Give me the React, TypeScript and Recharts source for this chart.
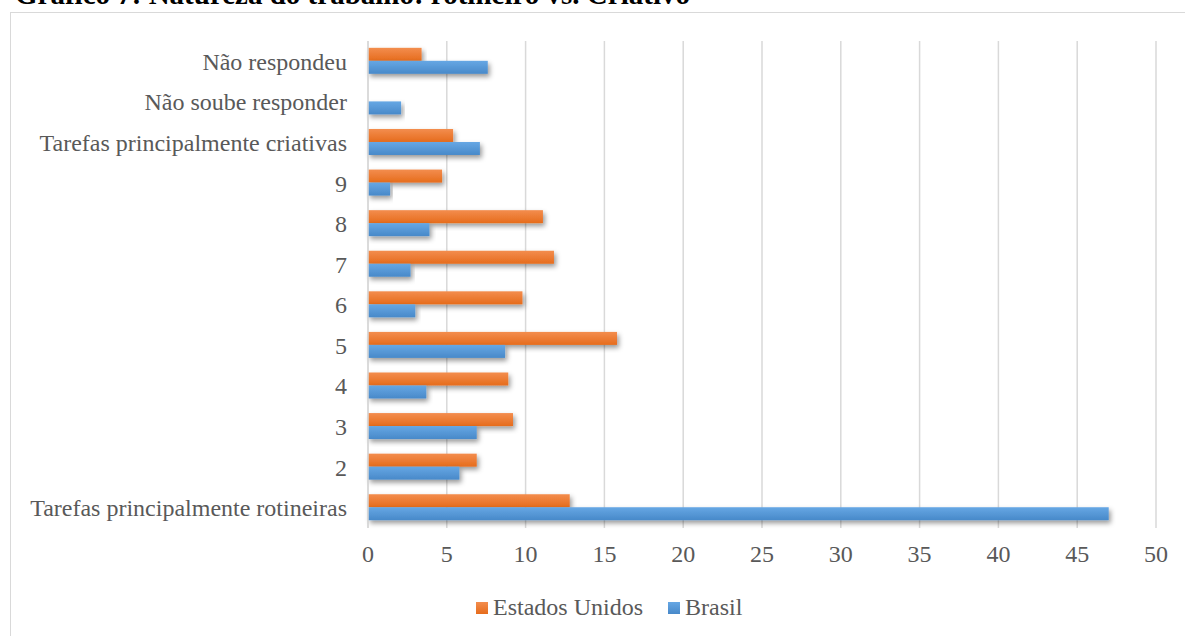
import { BarChart, Bar, XAxis, YAxis, CartesianGrid } from 'recharts';

// Natureza do trabalho, % de respostas por país
const categories = [
  'Não respondeu',
  'Não soube responder',
  'Tarefas principalmente criativas',
  '9',
  '8',
  '7',
  '6',
  '5',
  '4',
  '3',
  '2',
  'Tarefas principalmente rotineiras',
];
const estadosUnidos = [3.4, 0, 5.4, 4.7, 11.1, 11.8, 9.8, 15.8, 8.9, 9.2, 6.9, 12.8];
const brasil = [7.6, 2.1, 7.1, 1.4, 3.9, 2.7, 3.0, 8.7, 3.7, 6.9, 5.8, 47.0];
const xTicks = [0, 5, 10, 15, 20, 25, 30, 35, 40, 45, 50];

const data = categories.map((label, i) => ({
  label,
  eua: estadosUnidos[i],
  brasil: brasil[i],
}));

const FONT = "'Liberation Serif', 'Times New Roman', serif";
const FONT_SIZE = 24;
const TEXT = '#595959';
const GRID = '#d9d9d9';

const GradBar = (fillId: string) => (props: any) => {
  const { x, y, width, height } = props;
  if (!width || width <= 0) return null;
  return (
    <rect
      x={x}
      y={y}
      width={width}
      height={height}
      fill={`url(#${fillId})`}
      filter="url(#barShadow)"
    />
  );
};

const CategoryTick = (props: any) => {
  const { x, y, payload } = props;
  return (
    <text
      x={x}
      y={y}
      dy="0.355em"
      textAnchor="end"
      fontFamily={FONT}
      fontSize={FONT_SIZE}
      fill={TEXT}
    >
      {payload.value}
    </text>
  );
};

const ValueTick = (props: any) => {
  const { x, y, payload } = props;
  return (
    <text x={x} y={y} dy={16} textAnchor="middle" fontFamily={FONT} fontSize={FONT_SIZE} fill={TEXT}>
      {payload.value}
    </text>
  );
};

const legendItems = [
  { name: 'Estados Unidos', from: '#f38d4e', to: '#e66c1c' },
  { name: 'Brasil', from: '#66a7e4', to: '#4889c9' },
];

const ChartLegend = () => (
  <div
    style={{
      position: 'absolute',
      left: 476,
      top: 594,
      display: 'flex',
      fontFamily: FONT,
      fontSize: FONT_SIZE,
      color: TEXT,
    }}
  >
    {legendItems.map((item, i) => (
      <div
        key={item.name}
        style={{ display: 'flex', alignItems: 'flex-end', marginLeft: i === 0 ? 0 : 25 }}
      >
        <span
          style={{
            display: 'inline-block',
            width: 12,
            height: 12,
            marginRight: 5,
            marginBottom: 6,
            background: `linear-gradient(${item.from}, ${item.to})`,
          }}
        />
        <span style={{ lineHeight: '26px' }}>{item.name}</span>
      </div>
    ))}
  </div>
);

export default function App() {
  return (
    <div
      style={{
        position: 'absolute',
        left: 0,
        top: 0,
        width: 1185,
        height: 636,
        overflow: 'hidden',
        background: '#fff',
      }}
    >
      <div
        style={{
          position: 'absolute',
          left: 15,
          top: -22,
          fontFamily: FONT,
          fontWeight: 'bold',
          fontSize: 29,
          whiteSpace: 'nowrap',
          color: '#000',
        }}
      >
        Gráfico 7: Natureza do trabalho: rotineiro vs. Criativo
      </div>
      <div
        style={{
          position: 'absolute',
          left: 10,
          top: 12,
          width: 1200,
          height: 700,
          border: `1.5px solid ${GRID}`,
          boxSizing: 'border-box',
        }}
      />
      <div style={{ position: 'absolute', left: 0, top: 0 }}>
        <BarChart
          width={1185}
          height={636}
          data={data}
          layout="vertical"
          margin={{ top: 41, right: 29, bottom: 78, left: 0 }}
          barCategoryGap="16.8%"
          barGap={0}
        >
          <defs>
            <linearGradient id="gradEua" x1="0" y1="0" x2="0" y2="1">
              <stop offset="0%" stopColor="#f38d4e" />
              <stop offset="100%" stopColor="#e66c1c" />
            </linearGradient>
            <linearGradient id="gradBrasil" x1="0" y1="0" x2="0" y2="1">
              <stop offset="0%" stopColor="#66a7e4" />
              <stop offset="100%" stopColor="#4889c9" />
            </linearGradient>
            <filter id="barShadow" x="-5%" y="-30%" width="115%" height="190%">
              <feDropShadow dx="2" dy="3" stdDeviation="2.5" floodColor="#000" floodOpacity="0.4" />
            </filter>
          </defs>
          <CartesianGrid horizontal={false} stroke={GRID} strokeWidth={1.5} />
          <XAxis
            type="number"
            domain={[0, 50]}
            ticks={xTicks}
            axisLine={false}
            tickLine={false}
            tick={<ValueTick />}
            tickMargin={12}
            height={30}
            interval={0}
          />
          <YAxis
            type="category"
            dataKey="label"
            width={368}
            axisLine={{ stroke: GRID, strokeWidth: 1.5 }}
            tickLine={false}
            tick={<CategoryTick />}
            tickMargin={15}
            interval={0}
          />
          <Bar
            dataKey="eua"
            name="Estados Unidos"
            shape={GradBar('gradEua')}
            isAnimationActive={false}
          />
          <Bar
            dataKey="brasil"
            name="Brasil"
            shape={GradBar('gradBrasil')}
            isAnimationActive={false}
          />
        </BarChart>
      </div>
      <ChartLegend />
    </div>
  );
}
